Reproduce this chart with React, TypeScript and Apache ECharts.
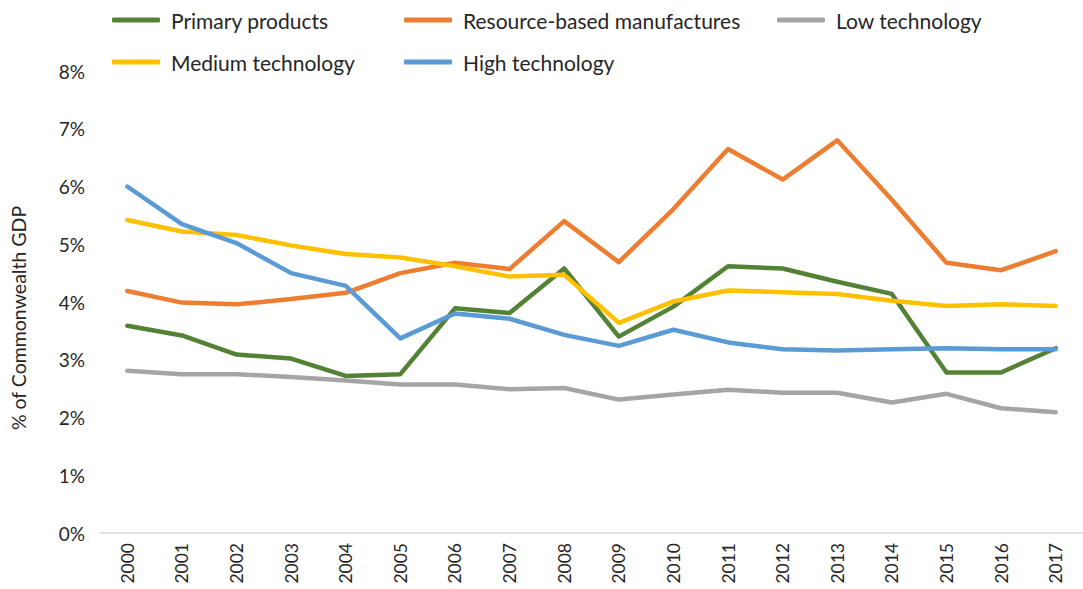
import React, { useEffect, useRef } from "react";
import * as echarts from "echarts";

const years = ["2000","2001","2002","2003","2004","2005","2006","2007","2008","2009","2010","2011","2012","2013","2014","2015","2016","2017"];
const yTicks = [0, 1, 2, 3, 4, 5, 6, 7, 8];

const primaryProducts = [3.59, 3.42, 3.09, 3.02, 2.72, 2.75, 3.89, 3.81, 4.58, 3.40, 3.92, 4.62, 4.58, 4.35, 4.14, 2.78, 2.78, 3.20];
const resourceBased = [4.19, 3.99, 3.96, 4.05, 4.16, 4.50, 4.68, 4.57, 5.40, 4.69, 5.61, 6.65, 6.12, 6.80, 5.77, 4.68, 4.55, 4.88];
const lowTech = [2.81, 2.75, 2.75, 2.70, 2.64, 2.57, 2.57, 2.49, 2.51, 2.31, 2.40, 2.48, 2.43, 2.43, 2.26, 2.41, 2.16, 2.09];
const mediumTech = [5.42, 5.22, 5.16, 4.98, 4.83, 4.77, 4.62, 4.44, 4.47, 3.64, 4.01, 4.20, 4.17, 4.14, 4.02, 3.93, 3.96, 3.93];
const highTech = [6.00, 5.35, 5.02, 4.50, 4.28, 3.37, 3.80, 3.71, 3.43, 3.24, 3.52, 3.30, 3.18, 3.16, 3.18, 3.20, 3.18, 3.18];

const seriesDefs = [
  { name: "Primary products", data: primaryProducts, color: "#548235", left: 112, top: 8 },
  { name: "Resource-based manufactures", data: resourceBased, color: "#ED7D31", left: 404, top: 8 },
  { name: "Low technology", data: lowTech, color: "#A5A5A5", left: 777, top: 8 },
  { name: "Medium technology", data: mediumTech, color: "#FFC000", left: 112, top: 50 },
  { name: "High technology", data: highTech, color: "#5B9BD5", left: 404, top: 50 },
];

export default function App() {
  const ref = useRef<HTMLDivElement>(null);
  useEffect(() => {
    if (!ref.current) return;
    const chart = echarts.init(ref.current, undefined, { renderer: "svg" });
    const font = "Lato, 'Noto Sans', sans-serif";
    chart.setOption({
      animation: false,
      backgroundColor: "#ffffff",
      textStyle: { fontFamily: font },
      legend: seriesDefs.map((s) => ({
        data: [s.name],
        left: s.left,
        top: s.top,
        icon: "roundRect",
        itemWidth: 48,
        itemHeight: 5,
        itemGap: 10,
        padding: 0,
        textStyle: { fontSize: 21, color: "#262626", fontFamily: font, padding: [0, 0, 0, 6], lineHeight: 24 },
      })),
      grid: { left: 99, top: 71, width: 997, bottom: 56 },
      xAxis: {
        type: "category",
        data: years,
        boundaryGap: true,
        axisLine: { show: true, lineStyle: { color: "#D9D9D9", width: 1.5 } },
        axisTick: { show: false },
        axisLabel: { rotate: 90, fontSize: 17.5, color: "#262626", margin: 10, fontFamily: font },
      },
      yAxis: {
        type: "value",
        min: yTicks[0],
        max: yTicks[yTicks.length - 1],
        interval: 1,
        name: "% of Commonwealth GDP",
        nameLocation: "middle",
        nameGap: 72,
        nameTextStyle: { fontSize: 19.5, color: "#262626", fontFamily: font, padding: [0, 32, 0, 0] },
        axisLine: { show: false },
        axisTick: { show: false },
        splitLine: { show: false },
        axisLabel: { formatter: (v: number) => v + "%", fontSize: 19, color: "#262626", margin: 15, fontFamily: font },
      },
      series: seriesDefs.map((s) => ({
        name: s.name,
        type: "line",
        data: s.data,
        symbol: "none",
        itemStyle: { color: s.color },
        lineStyle: { color: s.color, width: 4.5, cap: "round", join: "round" },
      })),
    });
    return () => chart.dispose();
  }, []);
  return <div ref={ref} style={{ width: 1083, height: 589, position: "absolute", left: 0, top: 0 }} />;
}
